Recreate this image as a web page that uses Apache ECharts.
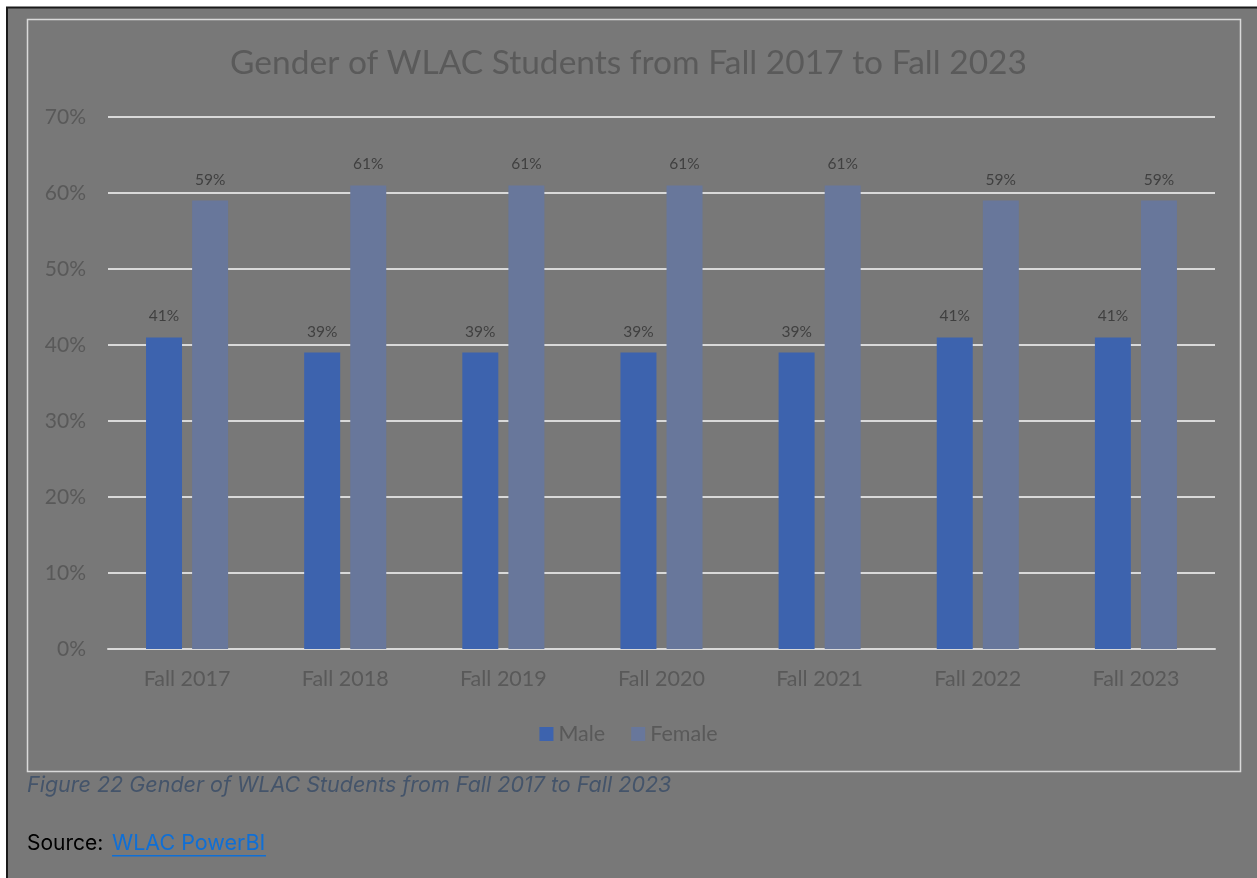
<!DOCTYPE html>
<html>
<head>
<meta charset="utf-8">
<script src="https://cdn.jsdelivr.net/npm/echarts@6/dist/echarts.min.js"></script>
<style>
html,body{margin:0;padding:0;background:#ffffff;}
#c{width:1257px;height:878px;}
</style>
</head>
<body>
<div id="c"></div>
<script>
const categories = ['Fall 2017','Fall 2018','Fall 2019','Fall 2020','Fall 2021','Fall 2022','Fall 2023'];
const maleValues = [41, 39, 39, 39, 39, 41, 41];
const femaleValues = [59, 61, 61, 61, 61, 59, 59];
const yTicks = [0, 10, 20, 30, 40, 50, 60, 70];

const chart = echarts.init(document.getElementById('c'));
const font = 'Lato, "Open Sans", sans-serif';
const capFont = 'Inter, "Liberation Sans", sans-serif';
const bg = '#787878';
chart.setOption({
  backgroundColor: '#ffffff',
  animation: false,
  graphic: [
    {type:'rect', z:-10, shape:{x:7,y:7,width:1250,height:871}, style:{fill:bg}},
    {type:'line', z:-9, shape:{x1:6,y1:7.5,x2:1257,y2:7.5}, style:{stroke:'#1a1a1a', lineWidth:2}},
    {type:'line', z:-9, shape:{x1:7,y1:7,x2:7,y2:878}, style:{stroke:'#1a1a1a', lineWidth:2}},
    {type:'rect', z:-8, shape:{x:27.5,y:19.5,width:1213,height:752}, style:{fill:bg, stroke:'#d9d9d9', lineWidth:1.5}},
    {type:'text', left:27, top:775, style:{text:'Figure 22 Gender of WLAC Students from Fall 2017 to Fall 2023', font:'italic 21.5px ' + capFont, fill:'#44546a'}},
    {type:'text', left:27, top:833, style:{text:'Source:', font:'21px ' + capFont, fill:'#000000'}},
    {type:'text', left:112, top:833, style:{text:'WLAC PowerBI', font:'21.5px ' + capFont, fill:'#0f6fd6'}},
    {type:'rect', shape:{x:112,y:855,width:154,height:1.5}, style:{fill:'#0f6fd6'}}
  ],
  title: {
    text: 'Gender of WLAC Students from Fall 2017 to Fall 2023',
    left: 'center', top: 41,
    textStyle: {fontFamily: font, fontSize: 33.5, fontWeight: 'normal', color: '#5a5a5a'}
  },
  legend: {
    bottom: 128, left: 'center',
    itemWidth: 14, itemHeight: 14, itemGap: 26,
    icon: 'rect',
    textStyle: {fontFamily: font, fontSize: 21.5, color: '#595959'},
    data: ['Male','Female']
  },
  grid: {left: 108, right: 42, top: 117, bottom: 229, containLabel: false},
  xAxis: {
    type: 'category', data: categories,
    axisLine: {lineStyle: {color: '#d9d9d9', width: 2}},
    axisTick: {show: false},
    axisLabel: {fontFamily: font, fontSize: 21.5, color: '#595959', margin: 19}
  },
  yAxis: {
    type: 'value', min: 0, max: 70, interval: 10,
    axisLine: {show: false}, axisTick: {show: false},
    axisLabel: {fontFamily: font, fontSize: 21, color: '#595959', margin: 22, formatter: v => v + '%'},
    splitLine: {lineStyle: {color: '#d9d9d9', width: 2}}
  },
  series: [
    {name: 'Male', type: 'bar', data: maleValues, barWidth: 36, barGap: '28%',
     itemStyle: {color: '#3d63ae'},
     label: {show: true, position: 'top', distance: 13, formatter: p => p.value + '%', fontFamily: font, fontSize: 15.5, color: '#404040'}},
    {name: 'Female', type: 'bar', data: femaleValues, barWidth: 36,
     itemStyle: {color: '#68779b'},
     label: {show: true, position: 'top', distance: 13, formatter: p => p.value + '%', fontFamily: font, fontSize: 15.5, color: '#404040'}}
  ]
});
</script>
</body>
</html>
